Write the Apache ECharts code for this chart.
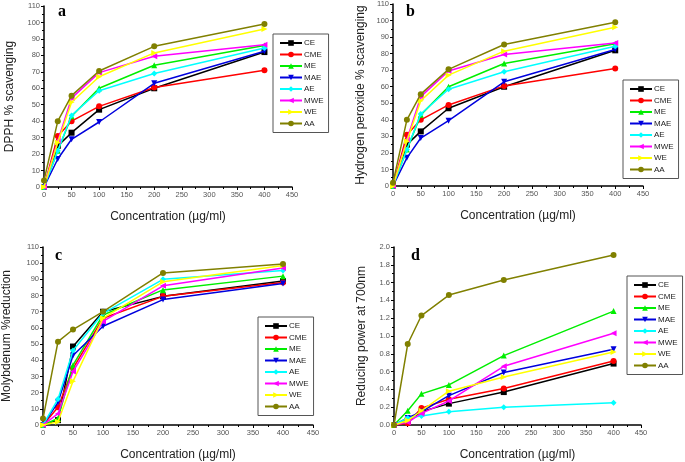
<!DOCTYPE html>
<html><head><meta charset="utf-8">
<script src="https://cdn.jsdelivr.net/npm/echarts@6/dist/echarts.min.js"></script>
<style>html,body{margin:0;padding:0;background:#fff}#c{width:685px;height:462px}</style>
</head><body><div id="c"></div>
<script>
const xValues = [0, 25, 50, 100, 200, 400];
const seriesNames = ['CE', 'CME', 'ME', 'MAE', 'AE', 'MWE', 'WE', 'AA'];
const xTicks = [0, 50, 100, 150, 200, 250, 300, 350, 400, 450];

// Panel a: DPPH % scavenging
const a_CE  = [0, 25, 33, 47, 60, 82];
const a_CME = [0, 31, 40, 49, 60.5, 71];
const a_ME  = [0, 22, 43, 60, 74, 86];
const a_MAE = [0, 17, 29, 39.5, 63, 82.5];
const a_AE  = [0, 22, 43.5, 58.5, 69, 84.5];
const a_MWE = [0, 28, 54, 69.5, 79.5, 86.5];
const a_WE  = [0, 27, 51.5, 67, 81.5, 96];
const a_AA  = [4, 40, 55.5, 70.5, 85.5, 99];

// Panel b: Hydrogen peroxide % scavenging
const b_CE  = [0, 25, 33, 47, 60, 82];
const b_CME = [0, 31, 40, 49, 60.5, 71];
const b_ME  = [0, 22, 43, 60, 74, 86];
const b_MAE = [0, 17, 29, 39.5, 63, 82.5];
const b_AE  = [0, 22, 43.5, 58.5, 69, 84.5];
const b_MWE = [0, 28, 54, 69.5, 79.5, 86.5];
const b_WE  = [0, 27, 51.5, 67, 81.5, 96];
const b_AA  = [2, 40, 55.5, 70.5, 85.5, 99];

// Panel c: Molybdenum % reduction
const c_CE  = [0, 3, 48.5, 70, 79.5, 89];
const c_CME = [0, 11, 35, 66, 79.5, 88];
const c_ME  = [0, 4, 37, 68, 83.5, 92];
const c_MAE = [0, 14, 43, 61, 77.5, 87.5];
const c_AE  = [0, 16, 46, 69, 90, 95.5];
const c_MWE = [0, 7, 33, 64, 86, 97];
const c_WE  = [0, 2, 27, 66, 88.5, 98.5];
const c_AA  = [4, 51.5, 59, 70, 94, 99.5];

// Panel d: Reducing power at 700nm
const d_CE  = [0, 0.05, 0.15, 0.24, 0.37, 0.69];
const d_CME = [0, 0.02, 0.19, 0.29, 0.41, 0.72];
const d_ME  = [0, 0.16, 0.35, 0.45, 0.78, 1.28];
const d_MAE = [0, 0.08, 0.15, 0.33, 0.59, 0.85];
const d_AE  = [0, 0.08, 0.10, 0.15, 0.20, 0.25];
const d_MWE = [0, 0.03, 0.13, 0.27, 0.66, 1.03];
const d_WE  = [0, 0.05, 0.16, 0.38, 0.54, 0.82];
const d_AA  = [0, 0.91, 1.23, 1.46, 1.63, 1.91];

const panels = [
  {letter:'a', yName:'DPPH % scavenging', yMax:110, yInt:10, data:[a_CE,a_CME,a_ME,a_MAE,a_AE,a_MWE,a_WE,a_AA]},
  {letter:'b', yName:'Hydrogen peroxide % scavenging', yMax:110, yInt:10, data:[b_CE,b_CME,b_ME,b_MAE,b_AE,b_MWE,b_WE,b_AA]},
  {letter:'c', yName:'Molybdenum %reduction', yMax:110, yInt:10, data:[c_CE,c_CME,c_ME,c_MAE,c_AE,c_MWE,c_WE,c_AA]},
  {letter:'d', yName:'Reducing power at 700nm', yMax:2.0, yInt:0.2, data:[d_CE,d_CME,d_ME,d_MAE,d_AE,d_MWE,d_WE,d_AA]}
];

const colors = ['#000000', '#ff0000', '#00ee00', '#0000dd', '#00ffff', '#ff00ff', '#ffff00', '#808000'];
const symbols = ['rect', 'circle', 'triangle', 'path://M0,0 L10,0 L5,10 Z', 'diamond',
                 'path://M0,5 L10,0 L10,10 Z', 'path://M0,0 L10,5 L0,10 Z', 'circle'];

const grids = [
  {left:44, top:6, width:248, height:181},
  {left:393, top:4, width:250, height:182},
  {left:43, top:247, width:270, height:182},
  {left:394, top:247, width:247, height:182}
];
const yGaps = [28, 26, 30, 26];
const legendPos = [
  {left:273, top:34},
  {left:623, top:80},
  {left:258, top:317},
  {left:627, top:276}
];
const letterPos = [[58, 4], [406, 4], [55, 248], [411, 248]];

const font = 'Liberation Sans, Arial, sans-serif';
const option = {
  animation:false,
  backgroundColor:'#fff',
  grid: grids.map(g => Object.assign({containLabel:false}, g)),
  xAxis: panels.map((p,i) => ({
    type:'value', gridIndex:i, min:0, max:450, interval:50,
    name:'Concentration (µg/ml)', nameLocation:'middle', nameGap:24,
    nameTextStyle:{fontSize:12, color:'#222', fontFamily:font},
    axisLine:{lineStyle:{color:'#000', width:1.5}},
    axisTick:{length:3, lineStyle:{color:'#000'}},
    minorTick:{show:true, splitNumber:2, length:2, lineStyle:{color:'#000'}},
    splitLine:{show:false},
    axisLabel:{fontSize:7.5, color:'#555', margin:4, fontFamily:font}
  })),
  yAxis: panels.map((p,i) => ({
    type:'value', gridIndex:i, min:0, max:p.yMax, interval:p.yInt,
    name:p.yName, nameLocation:'middle', nameGap:yGaps[i],
    nameTextStyle:{fontSize:12, color:'#222', fontFamily:font},
    axisLine:{show:true, lineStyle:{color:'#000', width:1.5}},
    axisTick:{show:true, length:3, lineStyle:{color:'#000'}},
    minorTick:{show:true, splitNumber:2, length:2, lineStyle:{color:'#000'}},
    splitLine:{show:false},
    axisLabel:{fontSize:7.5, color:'#555', margin:4, fontFamily:font,
      formatter: v => p.yInt < 1 ? v.toFixed(1) : String(v)}
  })),
  legend: panels.map((p,i) => ({
    orient:'vertical', left:legendPos[i].left, top:legendPos[i].top,
    data:seriesNames, itemWidth:22, itemHeight:7, itemGap:3.5,
    padding:[5,5,5,6], borderColor:'#555', borderWidth:1, backgroundColor:'#fff',
    textStyle:{fontSize:8, color:'#222', fontFamily:font, padding:[0,0,0,-3]},
    selectedMode:false
  })),
  title: panels.map((p,i) => ({
    text:p.letter, left:letterPos[i][0], top:letterPos[i][1], padding:0,
    textStyle:{fontSize:16, fontWeight:'bold', fontFamily:'Liberation Serif, Times New Roman, serif', color:'#000'}
  })),
  series: []
};
panels.forEach((p,i) => {
  p.data.forEach((vals,k) => {
    option.series.push({
      type:'line', name:seriesNames[k], xAxisIndex:i, yAxisIndex:i,
      data: xValues.map((x,j) => [x, vals[j]]),
      symbol:symbols[k], symbolSize:6, showSymbol:true,
      lineStyle:{width:1.5, color:colors[k]},
      itemStyle:{color:colors[k]},
      z: 2 + k
    });
  });
});
const chart = echarts.init(document.getElementById('c'), null, {renderer:'canvas'});
chart.setOption(option);
</script></body></html>
